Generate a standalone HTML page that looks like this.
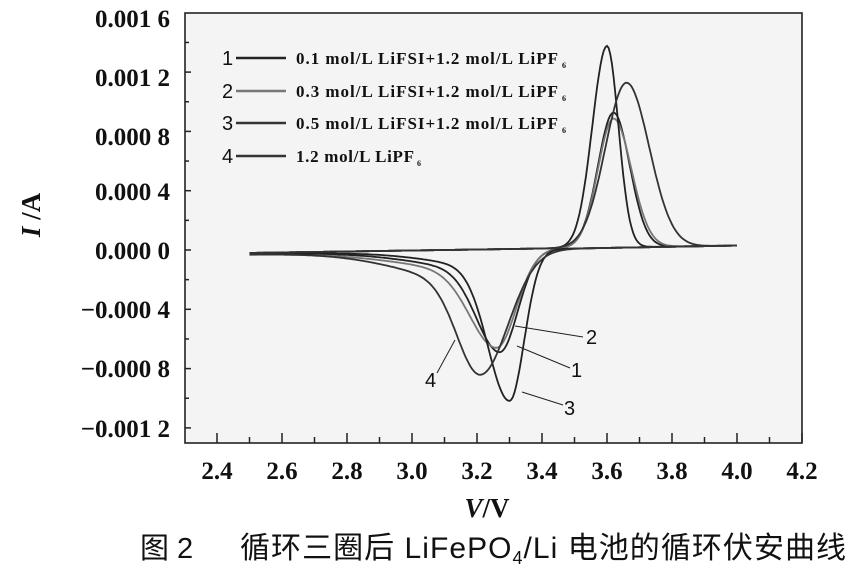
<!DOCTYPE html>
<html><head><meta charset="utf-8"><style>
html,body{margin:0;padding:0;background:#fff;}
svg{display:block;}
.t{font-family:"Liberation Serif",serif;font-weight:bold;fill:#111;}
.s{font-family:"Liberation Sans",sans-serif;fill:#111;}
</style></head><body>
<svg id="c" width="857" height="572" viewBox="0 0 857 572" xmlns="http://www.w3.org/2000/svg">
<rect x="185" y="13" width="617" height="430" fill="#f4f4f4" stroke="#222" stroke-width="1.6"/>
<g id="ticks" stroke="#222" stroke-width="1.5"></g>
<g class="t" font-size="25" text-anchor="end">
<text x="170" y="27">0.001 6</text>
<text x="170" y="86">0.001 2</text>
<text x="170" y="145">0.000 8</text>
<text x="170" y="200">0.000 4</text>
<text x="170" y="259">0.000 0</text>
<text x="170" y="318">−0.000 4</text>
<text x="170" y="377">−0.000 8</text>
<text x="170" y="437">−0.001 2</text>
</g>
<g class="t" font-size="25" text-anchor="middle" id="xl"></g>
<text class="t" font-size="27" transform="translate(40,215) rotate(-90)" text-anchor="middle"><tspan font-style="italic">I</tspan> /A</text>
<text class="t" font-size="27" x="487" y="517" text-anchor="middle"><tspan font-style="italic">V</tspan>/V</text>
<text x="140" y="558" font-family="Liberation Sans, 'Noto Sans CJK SC', sans-serif" font-size="29" fill="#111">图 2</text>
<text x="240" y="558" font-family="Liberation Sans, 'Noto Sans CJK SC', sans-serif" font-size="30" fill="#111" textLength="606">循环三圈后 LiFePO<tspan font-size="18" dy="6">4</tspan><tspan dy="-6">/Li 电池的循环伏安曲线</tspan></text>
<g class="t" font-size="17">
<text x="296" y="64" textLength="262">0.1 mol/L LiFSI+1.2 mol/L LiPF</text><text class="t" x="562" y="68" font-size="8">6</text>
<text x="296" y="97" textLength="262">0.3 mol/L LiFSI+1.2 mol/L LiPF</text><text class="t" x="562" y="101" font-size="8">6</text>
<text x="296" y="129" textLength="262">0.5 mol/L LiFSI+1.2 mol/L LiPF</text><text class="t" x="562" y="133" font-size="8">6</text>
<text x="296" y="162" textLength="118">1.2 mol/L LiPF</text><text class="t" x="417" y="166" font-size="8">6</text>
</g>
<g class="s" font-size="20">
<text x="222" y="65">1</text><text x="222" y="98">2</text><text x="222" y="130">3</text><text x="222" y="163">4</text>
<text x="586" y="344">2</text><text x="571" y="377">1</text><text x="564" y="415">3</text><text x="425" y="387">4</text>
</g>
<g stroke-width="2.5">
<line x1="236" y1="58" x2="286" y2="58" stroke="#222"/>
<line x1="236" y1="91" x2="286" y2="91" stroke="#777"/>
<line x1="236" y1="123" x2="286" y2="123" stroke="#333"/>
<line x1="236" y1="156" x2="286" y2="156" stroke="#333"/>
</g>
<g stroke="#222" stroke-width="1" fill="none">
<line x1="515" y1="326" x2="583" y2="337"/>
<line x1="517" y1="346" x2="570" y2="368"/>
<line x1="522" y1="392" x2="563" y2="405"/>
<line x1="455" y1="340" x2="437" y2="373"/>
</g>
<g id="curves" fill="none" stroke-width="1.8"></g>
</svg>
<script>
var NS="http://www.w3.org/2000/svg";
function X(v){return 217+(v-2.4)*325;}
function Y(i){return 250-i/0.0004*59.3;}
var tk=document.getElementById("ticks"),xl=document.getElementById("xl");
for(var k=0;k<=18;k++){var v=2.4+k*0.1,x=X(v);var l=document.createElementNS(NS,"line");
l.setAttribute("x1",x);l.setAttribute("x2",x);l.setAttribute("y1",443);l.setAttribute("y2",k%2?437:433);tk.appendChild(l);
if(k%2==0){var t=document.createElementNS(NS,"text");t.setAttribute("x",x);t.setAttribute("y",479);t.textContent=v.toFixed(1);xl.appendChild(t);}}
for(var k=0;k<15;k++){var y=Y(0.0016-k*0.0002);if(y<16)continue;var l=document.createElementNS(NS,"line");
l.setAttribute("x1",185);l.setAttribute("x2",k%2?189:191);l.setAttribute("y1",y);l.setAttribute("y2",y);tk.appendChild(l);}
function ag(v,c,h,sl,sr){var s=v<c?sl:sr;return h*Math.exp(-Math.pow((v-c)/s,2)/2);}
function cg(v,c,h,sl,sr,w){if(v>=c)return h*Math.exp(-Math.pow((v-c)/sr,2)/2);
 var x=v-c;return h*((1-w)*Math.exp(-Math.pow(x/sl,2)/2)+w*Math.exp(-Math.pow(x/(3.2*sl),2)/2));}
var C=[
 {col:"#222",a:[3.62,0.00091,0.048,0.05],c:[3.27,-0.00069,0.07,0.055],w:0.2},
 {col:"#777",a:[3.62,0.00087,0.048,0.055],c:[3.26,-0.00066,0.08,0.06],w:0.22},
 {col:"#222",a:[3.60,0.00136,0.045,0.035],c:[3.30,-0.00102,0.065,0.045],w:0.12},
 {col:"#333",a:[3.66,0.00111,0.065,0.07],c:[3.21,-0.00084,0.07,0.085],w:0.25}
];
var g=document.getElementById("curves");
C.forEach(function(o){var d="";
 for(var v=2.5;v<=4.0001;v+=0.005){var i=-0.00002+(v-2.5)/1.5*0.00005+ag(v,o.a[0],o.a[1],o.a[2],o.a[3]);d+=(d?"L":"M")+X(v).toFixed(1)+" "+Y(i).toFixed(1);}
 for(var v=4.0;v>=2.4999;v-=0.005){
  var i=0.00003-(4.0-v)/1.5*0.00006+cg(v,o.c[0],o.c[1],o.c[2],o.c[3],o.w);
  d+="L"+X(v).toFixed(1)+" "+Y(i).toFixed(1);}
 var p=document.createElementNS(NS,"path");p.setAttribute("d",d);p.setAttribute("stroke",o.col);g.appendChild(p);});
</script>
</body></html>
